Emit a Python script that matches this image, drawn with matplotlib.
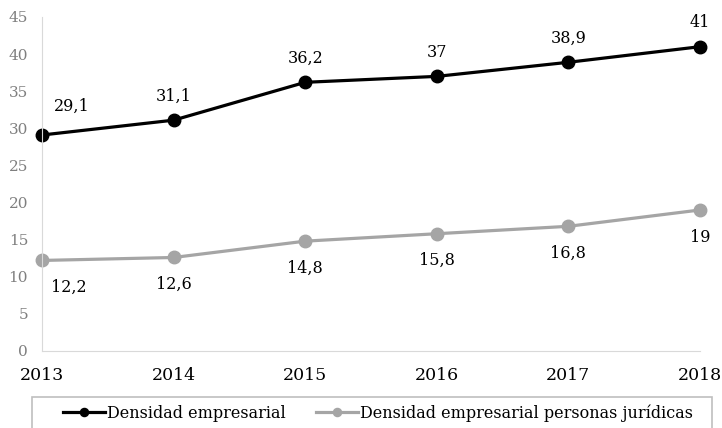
import matplotlib.pyplot as plt
from matplotlib.patches import Rectangle

years = [2013, 2014, 2015, 2016, 2017, 2018]
densidad = [29.1, 31.1, 36.2, 37, 38.9, 41]
densidad_juridicas = [12.2, 12.6, 14.8, 15.8, 16.8, 19]
y_ticks = [0, 5, 10, 15, 20, 25, 30, 35, 40, 45]

plt.rcParams['font.family'] = ['DejaVu Serif']

fig = plt.figure(figsize=(7.22, 4.28), dpi=100)
ax = fig.add_axes([42 / 722, 1 - 351 / 428, 658 / 722, 334 / 428])

black = '#000000'
gray = '#A5A5A5'

ax.plot(years, densidad, color=black, lw=2.3, marker='o', ms=9, label='Densidad empresarial')
ax.plot(years, densidad_juridicas, color=gray, lw=2.3, marker='o', ms=9,
        label='Densidad empresarial personas jurídicas')


def fmt(v):
    return f'{v:g}'.replace('.', ',')


# data labels (points offsets)
for i, (x, v) in enumerate(zip(years, densidad)):
    dx, dy = (21.5, 21) if i == 0 else (0, 17.3)
    ax.annotate(fmt(v), (x, v), xytext=(dx, dy), textcoords='offset points',
                ha='center', va='center', fontsize=11.5, color='black')

for i, (x, v) in enumerate(zip(years, densidad_juridicas)):
    dx = 19.5 if i == 0 else 0
    ax.annotate(fmt(v), (x, v), xytext=(dx, -19.5), textcoords='offset points',
                ha='center', va='center', fontsize=11.5, color='black')

ax.set_xlim(2013, 2018)
ax.set_ylim(0, 45)
ax.set_yticks(y_ticks)
ax.set_xticks(years)
ax.set_xticklabels([str(y) for y in years])
ax.tick_params(axis='y', length=0, labelsize=11, labelcolor='#7F7F7F', pad=10)
ax.tick_params(axis='x', length=0, labelsize=12.5, labelcolor='black', pad=11.5)

for s in ['top', 'right']:
    ax.spines[s].set_visible(False)
ax.spines['left'].set_color('#D9D9D9')
ax.spines['bottom'].set_color('#D9D9D9')
for ln in ax.lines:
    ln.set_clip_on(False)

fig.patches.append(Rectangle((32 / 722, -0.02), 680 / 722, 1 - 397 / 428 + 0.02,
                             transform=fig.transFigure, fill=False,
                             edgecolor='#BFBFBF', lw=1.2))
fig.legend(loc='center', bbox_to_anchor=(378 / 722, 1 - 413 / 428), ncol=2, frameon=False,
           fontsize=11.5, handlelength=2.6, columnspacing=1.9, handletextpad=0.15,
           markerscale=0.65, borderaxespad=0)

fig.savefig('out.png', dpi=100)
